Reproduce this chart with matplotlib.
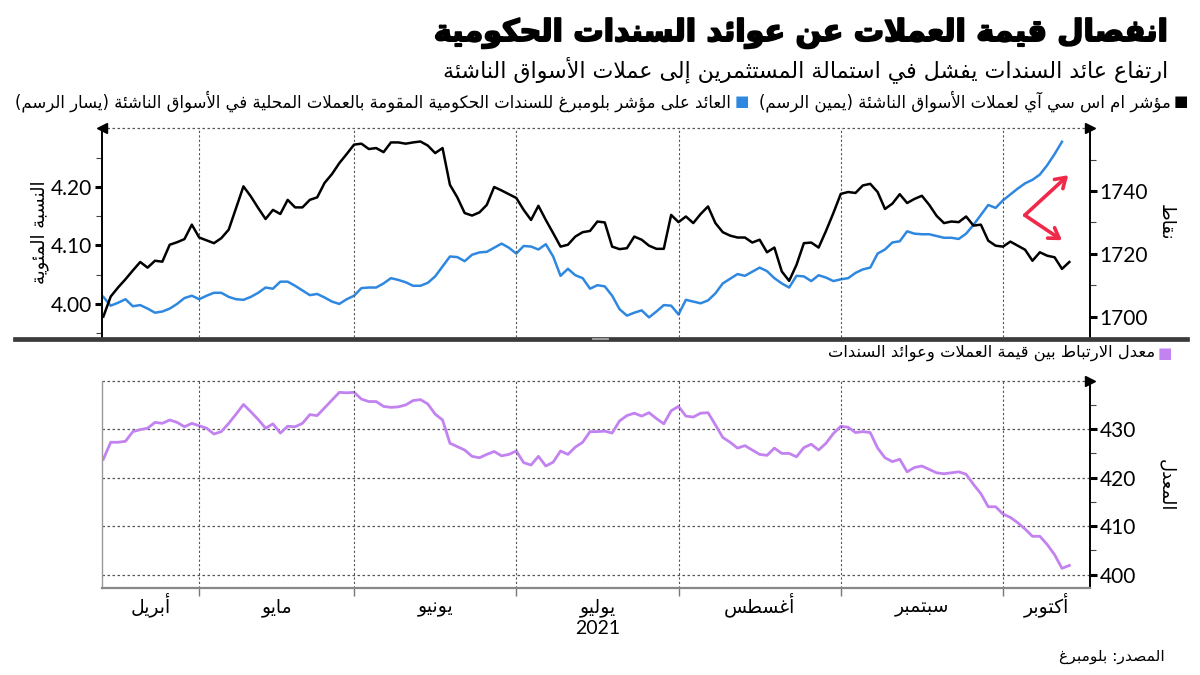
import re
import numpy as np
import pandas as pd
import matplotlib
matplotlib.use("Agg")
import matplotlib.pyplot as plt
import matplotlib.patheffects as pe
from matplotlib.lines import Line2D
from matplotlib.ticker import FixedLocator, FuncFormatter, NullFormatter

# business days, Apr 14 -> Oct 14 2021
dates = pd.bdate_range("2021-04-14", periods=132)

# MSCI EM currency index (right axis, points)
msci_fx = [1700.0, 1706.4, 1709.3, 1711.9, 1714.7, 1717.4, 1715.6, 1717.8, 1717.5, 1722.9,
           1723.7, 1724.7, 1729.3, 1725.2, 1724.3, 1723.4, 1725.0, 1727.7, 1734.6, 1741.5,
           1738.3, 1734.6, 1731.1, 1734.0, 1732.7, 1737.2, 1734.8, 1734.8, 1737.2, 1738.0,
           1742.6, 1745.4, 1748.9, 1751.8, 1754.8, 1755.1, 1753.4, 1753.7, 1752.4, 1755.5,
           1755.5, 1755.1, 1755.5, 1755.8, 1754.5, 1752.1, 1753.7, 1742.0, 1738.0, 1733.0,
           1732.2, 1733.2, 1735.6, 1741.3, 1740.2, 1739.0, 1737.8, 1734.0, 1730.8, 1735.3,
           1730.8, 1726.6, 1722.3, 1722.9, 1725.5, 1726.9, 1727.3, 1730.3, 1730.0, 1722.3,
           1721.5, 1721.8, 1725.5, 1724.5, 1722.6, 1721.6, 1721.6, 1732.4, 1730.1, 1731.9,
           1729.8, 1732.7, 1735.1, 1729.8, 1726.9, 1725.8, 1725.2, 1725.2, 1723.6, 1724.5,
           1720.5, 1722.0, 1714.4, 1711.4, 1716.5, 1723.4, 1723.6, 1722.0, 1727.3, 1733.0,
           1739.1, 1739.7, 1739.4, 1741.8, 1742.3, 1739.7, 1734.3, 1736.0, 1739.0, 1736.2,
           1737.5, 1738.5, 1735.6, 1732.1, 1729.8, 1730.3, 1730.1, 1731.9, 1729.0, 1729.3,
           1724.2, 1722.6, 1722.3, 1723.9, 1722.6, 1721.3, 1717.8, 1720.5, 1719.4, 1718.9,
           1715.2, 1717.4]

# Bloomberg EM local currency govt bond yield (left axis, %)
bond_yield = [4.012, 3.997, 4.002, 4.008, 3.996, 3.998, 3.992, 3.985, 3.987, 3.992,
              4.000, 4.010, 4.014, 4.008, 4.014, 4.019, 4.019, 4.012, 4.008, 4.007,
              4.012, 4.019, 4.028, 4.026, 4.038, 4.038, 4.031, 4.023, 4.015, 4.017,
              4.011, 4.004, 4.000, 4.008, 4.014, 4.027, 4.028, 4.028, 4.035, 4.044,
              4.041, 4.037, 4.031, 4.031, 4.036, 4.047, 4.064, 4.081, 4.080, 4.073,
              4.084, 4.088, 4.089, 4.096, 4.103, 4.096, 4.086, 4.099, 4.098, 4.093,
              4.102, 4.081, 4.048, 4.060, 4.049, 4.044, 4.026, 4.032, 4.030, 4.014,
              3.991, 3.980, 3.985, 3.989, 3.977, 3.987, 3.998, 3.997, 3.982, 4.007,
              4.004, 4.001, 4.006, 4.018, 4.035, 4.043, 4.051, 4.048, 4.055, 4.062,
              4.056, 4.044, 4.035, 4.028, 4.048, 4.047, 4.039, 4.049, 4.045, 4.039,
              4.042, 4.044, 4.053, 4.059, 4.062, 4.086, 4.093, 4.105, 4.107, 4.124,
              4.120, 4.119, 4.119, 4.116, 4.113, 4.113, 4.111, 4.120, 4.135, 4.152,
              4.169, 4.164, 4.177, 4.187, 4.197, 4.206, 4.212, 4.221, 4.237, 4.256,
              4.277]

# correlation series (bottom panel)
correlation = [423.8, 427.3, 427.3, 427.5, 429.5, 429.9, 430.2, 431.4, 431.2, 431.9,
               431.4, 430.5, 431.2, 430.7, 430.2, 429.0, 429.5, 431.2, 433.1, 435.1,
               433.6, 432.0, 430.2, 431.1, 429.2, 430.6, 430.5, 431.2, 433.0, 432.8,
               434.4, 436.0, 437.6, 437.5, 437.6, 436.2, 435.7, 435.7, 434.7, 434.5,
               434.6, 435.0, 435.9, 436.1, 435.2, 433.1, 431.9, 427.1, 426.4, 425.7,
               424.4, 424.1, 424.8, 425.4, 424.5, 424.8, 425.5, 423.1, 422.6, 424.4,
               422.4, 423.2, 425.5, 424.8, 426.3, 427.3, 429.5, 429.5, 429.6, 429.2,
               431.7, 432.8, 433.3, 432.7, 433.4, 432.2, 431.1, 433.8, 434.7, 432.7,
               432.5, 433.3, 433.4, 430.9, 428.3, 427.3, 426.1, 426.6, 425.7, 424.8,
               424.6, 426.1, 425.0, 425.0, 424.3, 426.2, 426.9, 425.7, 427.1, 429.1,
               430.6, 430.4, 429.3, 429.5, 429.3, 426.1, 424.1, 423.3, 423.8, 421.2,
               422.1, 422.4, 421.7, 421.0, 420.8, 421.0, 421.2, 420.7, 418.6, 416.7,
               414.0, 414.0, 412.5, 411.8, 410.7, 409.4, 407.9, 407.9, 406.2, 404.1,
               401.3, 401.9]

month_labels = ["أبريل", "مايو", "يونيو", "يوليو", "أغسطس", "سبتمبر", "أكتوبر"]
year_label = "2021"
yield_ticks = [4.00, 4.10, 4.20]
msci_ticks = [1700, 1720, 1740]
corr_ticks = [400, 410, 420, 430]

title = "انفصال قيمة العملات عن عوائد السندات الحكومية"
subtitle = "ارتفاع عائد السندات يفشل في استمالة المستثمرين إلى عملات الأسواق الناشئة"
legend_msci = "مؤشر ام اس سي آي لعملات الأسواق الناشئة (يمين الرسم)"
legend_yield = "العائد على مؤشر بلومبرغ للسندات الحكومية المقومة بالعملات المحلية في الأسواق الناشئة (يسار الرسم)"
legend_corr = "معدل الارتباط بين قيمة العملات وعوائد السندات"
left_label = "النسبة المئوية"
right_label_top = "نقاط"
right_label_bottom = "المعدل"
source = "المصدر: بلومبرغ"

# --- minimal arabic shaping + visual ordering (mpl has no bidi) ---
FORMS = {
    "ء": (0xFE80, 1), "آ": (0xFE81, 2), "أ": (0xFE83, 2), "ؤ": (0xFE85, 2), "إ": (0xFE87, 2),
    "ئ": (0xFE89, 4), "ا": (0xFE8D, 2), "ب": (0xFE8F, 4), "ة": (0xFE93, 2), "ت": (0xFE95, 4),
    "ث": (0xFE99, 4), "ج": (0xFE9D, 4), "ح": (0xFEA1, 4), "خ": (0xFEA5, 4), "د": (0xFEA9, 2),
    "ذ": (0xFEAB, 2), "ر": (0xFEAD, 2), "ز": (0xFEAF, 2), "س": (0xFEB1, 4), "ش": (0xFEB5, 4),
    "ص": (0xFEB9, 4), "ض": (0xFEBD, 4), "ط": (0xFEC1, 4), "ظ": (0xFEC5, 4), "ع": (0xFEC9, 4),
    "غ": (0xFECD, 4), "ف": (0xFED1, 4), "ق": (0xFED5, 4), "ك": (0xFED9, 4), "ل": (0xFEDD, 4),
    "م": (0xFEE1, 4), "ن": (0xFEE5, 4), "ه": (0xFEE9, 4), "و": (0xFEED, 2), "ى": (0xFEEF, 2),
    "ي": (0xFEF1, 4),
    "\uFEF5": (0xFEF5, 2), "\uFEF7": (0xFEF7, 2), "\uFEF9": (0xFEF9, 2), "\uFEFB": (0xFEFB, 2),
}
LAM_ALEF = {"آ": "\uFEF5", "أ": "\uFEF7", "إ": "\uFEF9", "ا": "\uFEFB"}
MIRROR = {"(": ")", ")": "("}


def ar(text):
    s = []
    i = 0
    while i < len(text):
        if text[i] == "ل" and i + 1 < len(text) and text[i + 1] in LAM_ALEF:
            s.append(LAM_ALEF[text[i + 1]])
            i += 2
        else:
            s.append(text[i])
            i += 1
    out = []
    for i, c in enumerate(s):
        if c not in FORMS:
            out.append(c)
            continue
        base, n = FORMS[c]
        prev = s[i - 1] if i > 0 else None
        nxt = s[i + 1] if i + 1 < len(s) else None
        jp = n >= 2 and prev in FORMS and FORMS[prev][1] == 4
        jn = n == 4 and nxt in FORMS and FORMS[nxt][1] >= 2
        if jp and jn:
            out.append(chr(base + 3))
        elif jp:
            out.append(chr(base + 1))
        elif jn:
            out.append(chr(base + 2))
        else:
            out.append(chr(base))
    shaped = "".join(out)
    tokens = re.findall(r"[0-9A-Za-z.]+|[^0-9A-Za-z.]+", shaped)
    vis = []
    for tok in reversed(tokens):
        if re.match(r"[0-9A-Za-z]", tok):
            vis.append(tok)
        else:
            vis.append("".join(MIRROR.get(c, c) for c in reversed(tok)))
    return "".join(vis)


plt.rcParams["font.family"] = ["DejaVu Sans"]
BLUE = "#2f88e0"
PURPLE = "#c282ef"
GRID = "#555555"
W, H = 1200, 675

fig = plt.figure(figsize=(12, 6.75), dpi=100)


def box(l, t, r, b):
    return [l / W, 1 - b / H, (r - l) / W, (b - t) / H]


def ftxt(px, py, s, **kw):
    return fig.text(px / W, 1 - py / H, s, **kw)


def fit(t, width_px):
    r = fig.canvas.get_renderer()
    w = t.get_window_extent(r).width
    t.set_fontsize(t.get_fontsize() * width_px / w)


x = np.arange(len(dates))
starts = [i for i in range(1, len(dates)) if dates[i].month != dates[i - 1].month]
x0, x1 = -0.25, 133.8
edges = [x0] + starts + [x1]
mids = [(edges[k] + edges[k + 1]) / 2 for k in range(len(edges) - 1)]

ax_y = fig.add_axes(box(101.5, 128.3, 1090, 336.7))
ax_m = ax_y.twinx()
ax_c = fig.add_axes(box(101.5, 380.7, 1090, 587.7))

ax_y.plot(x[:len(bond_yield)], bond_yield, color=BLUE, lw=1.8)
ax_m.plot(x, msci_fx, color="black", lw=1.8)
ax_c.plot(x, correlation, color=PURPLE, lw=2.0)

for a in (ax_y, ax_m, ax_c):
    a.set_xlim(x0, x1)

# top panel
ax_y.set_ylim(3.944, 4.30)
ax_m.set_ylim(1693.6, 1760)
ax_y.yaxis.set_major_locator(FixedLocator(yield_ticks))
ax_y.yaxis.set_minor_locator(FixedLocator([3.95, 4.05, 4.15, 4.25]))
ax_y.yaxis.set_major_formatter(FuncFormatter(lambda v, p: f"{v:.2f}"))
ax_m.yaxis.set_major_locator(FixedLocator(msci_ticks))
ax_m.yaxis.set_minor_locator(FixedLocator([1710, 1730, 1750]))
ax_y.tick_params(axis="x", which="both", length=0, labelbottom=False)
ax_m.tick_params(axis="x", which="both", length=0, labelbottom=False)
for a in (ax_y, ax_m):
    a.tick_params(axis="y", which="major", length=5, width=2.2, color="black",
                  labelsize=15, labelfontfamily="Lato", pad=2)
    a.tick_params(axis="y", which="minor", length=4, width=0.8, color="#444")
    for sp in a.spines.values():
        sp.set_visible(False)
ax_y.spines["left"].set_visible(True)
ax_y.spines["left"].set_linewidth(1.4)
ax_m.spines["right"].set_visible(True)
ax_m.spines["right"].set_linewidth(1.4)
ax_y.axhline(ax_y.get_ylim()[1], color=GRID, ls=(0, (2, 2)), lw=0.9, clip_on=False)
for b in starts:
    ax_y.axvline(b, color=GRID, ls=(0, (2, 2)), lw=0.8)
ax_y.plot([0], [1], marker="<", ms=7, color="black", transform=ax_y.transAxes, clip_on=False)
ax_y.plot([1], [1], marker=">", ms=7, color="black", transform=ax_y.transAxes, clip_on=False)

# red arrows: yields up, currencies down
arrow = dict(arrowstyle="->,head_length=0.7,head_width=0.45", lw=2.6,
             color="#f0284a", shrinkA=0, shrinkB=0)
ax_y.annotate("", xy=(0.978, 0.775), xytext=(0.934, 0.583), xycoords="axes fraction",
              arrowprops=arrow)
ax_y.annotate("", xy=(0.9716, 0.463), xytext=(0.934, 0.583), xycoords="axes fraction",
              arrowprops=arrow)

# bottom panel
ax_c.set_ylim(397.3, 440)
ax_c.yaxis.tick_right()
ax_c.yaxis.set_major_locator(FixedLocator(corr_ticks))
ax_c.yaxis.set_minor_locator(FixedLocator([405, 415, 425, 435]))
ax_c.tick_params(axis="y", which="major", length=5, width=2.2, color="black",
                 labelsize=15, labelfontfamily="Lato", pad=2)
ax_c.tick_params(axis="y", which="minor", length=4, width=0.8, color="#444")
ax_c.yaxis.grid(True, color=GRID, ls=(0, (2, 2)), lw=0.9)
ax_c.axhline(ax_c.get_ylim()[1], color=GRID, ls=(0, (2, 2)), lw=0.9, clip_on=False)
for b in starts:
    ax_c.axvline(b, color=GRID, ls=(0, (2, 2)), lw=0.8)
ax_c.spines["top"].set_visible(False)
ax_c.spines["left"].set_color("#999999")
ax_c.spines["left"].set_linewidth(1.0)
ax_c.spines["bottom"].set_color("#888888")
ax_c.spines["bottom"].set_linewidth(1.6)
ax_c.spines["right"].set_linewidth(1.4)
ax_c.plot([1], [1], marker=">", ms=7, color="black", transform=ax_c.transAxes, clip_on=False)

ax_c.xaxis.set_major_locator(FixedLocator(starts))
ax_c.xaxis.set_major_formatter(NullFormatter())
ax_c.tick_params(axis="x", which="major", length=6, width=1, color="#777")

# month names centred in each month, baseline aligned
xt = ax_c.get_xaxis_transform()
for m, name in zip(mids, month_labels):
    ax_c.text(m, -0.118, ar(name), transform=xt, ha="center", va="baseline", fontsize=13.5)
ax_c.text(mids[3], -0.225, year_label, transform=xt, ha="center", va="baseline",
          fontsize=14, family="Lato")

# separator between panels
fig.add_artist(Line2D([15 / W, 1187 / W], [1 - 338.5 / H] * 2, lw=3.4, color="#3b3b3b"))
fig.add_artist(Line2D([592 / W, 608 / W], [1 - 337.6 / H] * 2, lw=0.6, color="#b0b0b0"))
fig.add_artist(Line2D([592 / W, 608 / W], [1 - 339.4 / H] * 2, lw=0.6, color="#b0b0b0"))

# headings
t = ftxt(1168, 33, ar(title), ha="right", va="center", fontsize=26, fontweight="bold",
         path_effects=[pe.withStroke(linewidth=1.4, foreground="black")])
fit(t, 734)
t = ftxt(1168, 70, ar(subtitle), ha="right", va="center", fontsize=18)
fit(t, 727)

# legends
ftxt(1181, 101, "■", ha="center", va="center", fontsize=11, color="black")
t = ftxt(1171, 101, ar(legend_msci), ha="right", va="center", fontsize=10)
fit(t, 412)
ftxt(742, 101, "■", ha="center", va="center", fontsize=11, color=BLUE)
t = ftxt(731, 101, ar(legend_yield), ha="right", va="center", fontsize=10)
fit(t, 716)
ftxt(1165, 353, "■", ha="center", va="center", fontsize=11, color=PURPLE)
t = ftxt(1155, 353, ar(legend_corr), ha="right", va="center", fontsize=10)
fit(t, 328)

# axis titles
ftxt(40, 232, ar(left_label), ha="center", va="center", rotation=90, fontsize=13)
ftxt(1166, 222, ar(right_label_top), ha="center", va="center", rotation=270, fontsize=13)
ftxt(1166, 485, ar(right_label_bottom), ha="center", va="center", rotation=270, fontsize=13)

# source
t = ftxt(1165, 657, ar(source), ha="right", va="center", fontsize=11)
fit(t, 105)

fig.savefig("out.png", dpi=100)
